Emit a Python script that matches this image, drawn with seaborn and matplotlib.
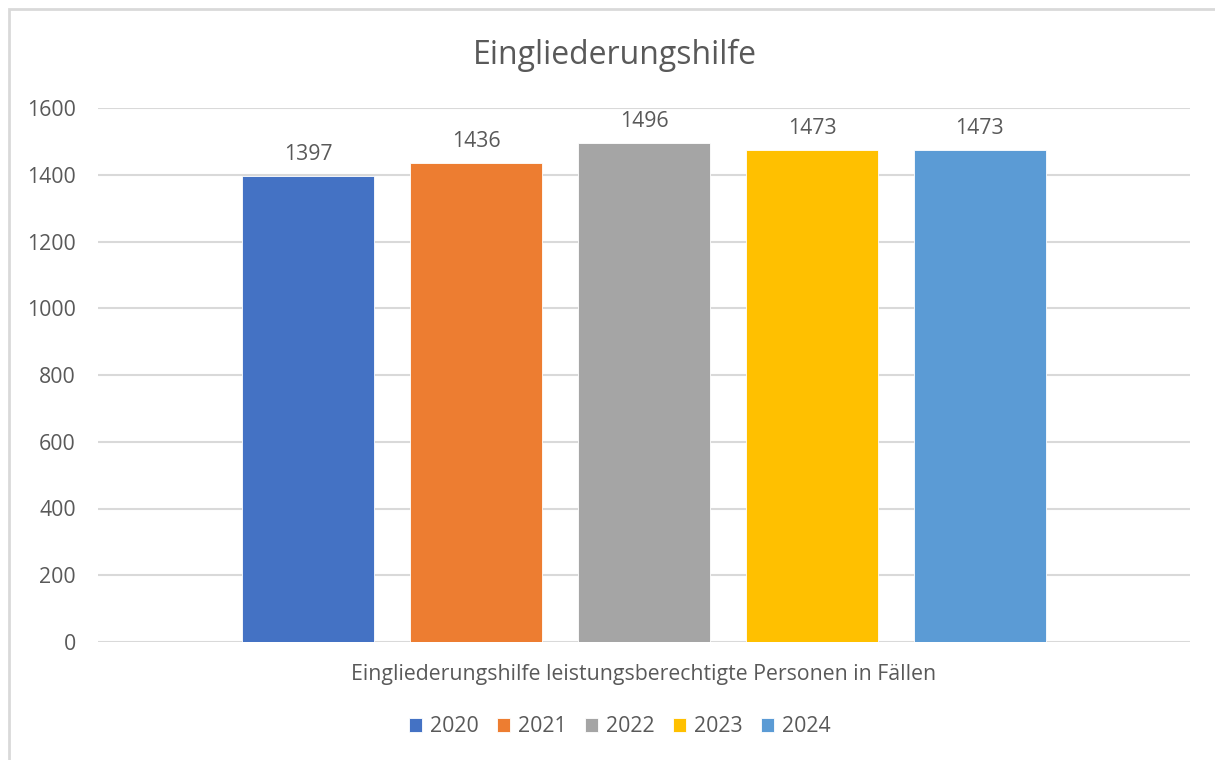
import matplotlib
matplotlib.use("Agg")
import matplotlib.pyplot as plt
import seaborn as sns
import pandas as pd
from matplotlib.patches import Rectangle

category = ["Eingliederungshilfe leistungsberechtigte Personen in Fällen"]
years = ["2020", "2021", "2022", "2023", "2024"]
values = [1397, 1436, 1496, 1473, 1473]
colors = ["#4472C4", "#ED7D31", "#A5A5A5", "#FFC000", "#5B9BD5"]
title = "Eingliederungshilfe"

df = pd.DataFrame({"cat": category * len(years), "year": years, "value": values})

sns.set_theme(style="white")
plt.rcParams["font.family"] = ["Open Sans", "DejaVu Sans"]
txt = "#595959"
grid = "#D9D9D9"
fs = 15.3

fig = plt.figure(figsize=(12.15, 7.6), dpi=100)
ax = fig.add_axes([98/1215, 1-642/760, (1190-98)/1215, (642-108)/760])

sns.barplot(data=df, x="cat", y="value", hue="year", palette=colors,
            width=0.769, gap=0.21, ax=ax, saturation=1, legend=True,
            edgecolor="white", linewidth=0.6)

ax.set_ylim(0, 1600)
ax.set_xlim(-0.5, 0.5)
ax.set_yticks(range(0, 1601, 200))
ax.yaxis.grid(True, color=grid, linewidth=1.5)
ax.set_axisbelow(True)
for s in ax.spines.values():
    s.set_visible(False)
ax.tick_params(axis="y", length=0, pad=16, labelsize=fs, labelcolor=txt)
ax.tick_params(axis="x", length=0, pad=16, labelsize=fs, labelcolor=txt)
ax.set_xlabel("")
ax.set_ylabel("")

for c in ax.containers:
    ax.bar_label(c, fmt="%d", padding=8, fontsize=fs, color=txt)

handles, labels = ax.get_legend_handles_labels()
ax.legend_.remove()
fig.legend(handles, labels, loc="center", bbox_to_anchor=(620/1215, 1-727/760),
           ncol=5, frameon=False, fontsize=fs, labelcolor=txt,
           handlelength=0.6, handleheight=0.6, handletextpad=0.4,
           columnspacing=0.85)

fig.text(615/1215, 1-55/760, title, ha="center", va="center",
         fontsize=23, color=txt)

fig.patches.append(Rectangle((9/1215, -0.1), 1.2, 1-9/760+0.1,
                             transform=fig.transFigure, fill=False,
                             edgecolor=grid, linewidth=2))

fig.savefig("out.png", dpi=100)
